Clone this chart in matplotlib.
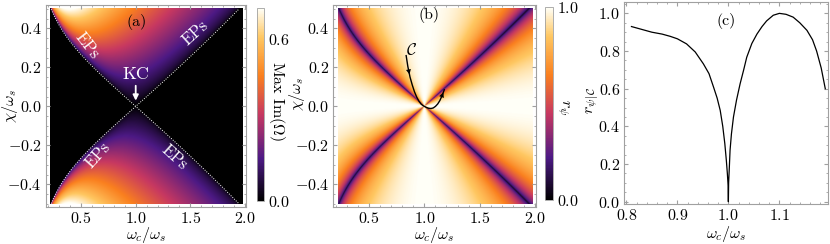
import numpy as np
import matplotlib
matplotlib.use("Agg")
import matplotlib.pyplot as plt
from matplotlib.colors import LinearSegmentedColormap
from matplotlib.ticker import FuncFormatter, MultipleLocator, AutoMinorLocator

plt.rcParams['font.family'] = 'serif'
plt.rcParams['font.serif'] = ['cmr10', 'DejaVu Serif']
plt.rcParams['mathtext.fontset'] = 'cm'
plt.rcParams['axes.formatter.use_mathtext'] = True

# model parameters (two modes, imaginary coupling chi)
omega_s = 1.0
wc_range = (0.22, 1.98)
chi_range = (-0.5, 0.5)

# curve C drawn in panel (b)
C_wc = [0.835, 0.85, 0.87, 0.89, 0.91, 0.93, 0.95, 0.97, 0.99, 1.0,
        1.02, 1.04, 1.06, 1.08, 1.1, 1.12, 1.14, 1.16, 1.18]
C_chi = [0.26, 0.205, 0.15, 0.11, 0.075, 0.048, 0.027, 0.012, 0.003, 0.0,
         -0.006, -0.01, -0.011, -0.008, 0.0, 0.012, 0.03, 0.055, 0.085]

# panel (c): r_psi along C
r_wc = [0.81, 0.83, 0.85, 0.87, 0.886, 0.9, 0.918, 0.935, 0.951, 0.962, 0.971,
        0.978, 0.984, 0.989, 0.993, 0.996, 0.998, 0.9995, 1.0,
        1.0005, 1.002, 1.0033, 1.006, 1.01, 1.016, 1.023, 1.03, 1.036, 1.046,
        1.056, 1.066, 1.075, 1.088, 1.1, 1.113, 1.127, 1.14, 1.154, 1.165,
        1.173, 1.182, 1.19]
r_val = [0.93, 0.915, 0.90, 0.89, 0.878, 0.865, 0.838, 0.795, 0.732, 0.68, 0.608,
         0.55, 0.485, 0.40, 0.309, 0.22, 0.15, 0.085, 0.0,
         0.10, 0.19, 0.273, 0.36, 0.45, 0.54, 0.626, 0.70, 0.767, 0.84,
         0.89, 0.93, 0.96, 0.99, 1.0, 0.995, 0.98, 0.95, 0.91, 0.86,
         0.80, 0.71, 0.60]

sunset = LinearSegmentedColormap.from_list("sunset", [
    (0.0, (0.0, 0.0, 0.0)),
    (0.22, (0.30, 0.10, 0.52)),
    (0.45, (0.78, 0.22, 0.38)),
    (0.65, (0.98, 0.50, 0.12)),
    (0.85, (1.0, 0.78, 0.38)),
    (1.0, (1.0, 1.0, 0.97))])

wc = np.linspace(wc_range[0], wc_range[1], 500)
chi = np.linspace(chi_range[0], chi_range[1], 400)
W, X = np.meshgrid(wc, chi)

A = (W**2 + omega_s**2) / 2
D = (W**2 - omega_s**2) / 2
g = 2 * np.abs(X) * np.sqrt(W * omega_s)
disc = D**2 - g**2
Om = np.sqrt(A + np.sqrt(disc + 0j))
max_im = np.abs(Om.imag) / W

with np.errstate(divide='ignore', invalid='ignore'):
    c = np.where(g < np.abs(D), g / np.abs(D), np.abs(D) / g)
c = np.nan_to_num(c, nan=1.0)
r_psi = np.sqrt(np.clip(1 - c**2, 0, 1))

fig = plt.figure(figsize=(8.3, 2.44), dpi=100)
ax1 = fig.add_axes([0.055, 0.152, 0.2415, 0.828])
ax2 = fig.add_axes([0.4016, 0.152, 0.2442, 0.828])
ax3 = fig.add_axes([0.7522, 0.164, 0.2458, 0.826])
cax1 = fig.add_axes([0.3093, 0.176, 0.0088, 0.79])
cax2 = fig.add_axes([0.6566, 0.180, 0.010, 0.79])

fmt = FuncFormatter(lambda v, p: r'$%.1f$' % v if abs(v) > 1e-9 else r'$0.0$')
frame_col = '#a0a0a0'
fs = 11.5


def style(ax):
    for s in ax.spines.values():
        s.set_color(frame_col)
        s.set_linewidth(0.8)
    ax.tick_params(which='both', direction='in', top=True, right=True,
                   color=frame_col, labelsize=fs, pad=3)
    ax.tick_params(which='major', length=3)
    ax.tick_params(which='minor', length=1.5)
    ax.xaxis.set_major_formatter(fmt)
    ax.yaxis.set_major_formatter(fmt)


ext = [wc_range[0], wc_range[1], chi_range[0], chi_range[1]]
im1 = ax1.imshow(max_im, extent=ext, origin='lower', aspect='auto',
                 cmap=sunset, vmin=0, vmax=0.715, interpolation='bilinear')
im2 = ax2.imshow(r_psi, extent=ext, origin='lower', aspect='auto',
                 cmap=sunset, vmin=0, vmax=1, interpolation='bilinear')

# EP lines in (a)
chi_ep = np.abs(wc**2 - omega_s**2) / (4 * np.sqrt(wc * omega_s))
ok = chi_ep <= 0.5
for sgn in (1, -1):
    ax1.plot(wc[ok], sgn * chi_ep[ok], color='white', ls=(0, (1, 1.5)), lw=0.7)

for ax in (ax1, ax2):
    ax.set_xlim(0.176, 2.01)
    ax.set_ylim(-0.515, 0.52)
    ax.xaxis.set_major_locator(MultipleLocator(0.5))
    ax.yaxis.set_major_locator(MultipleLocator(0.2))
    ax.xaxis.set_minor_locator(AutoMinorLocator(5))
    ax.yaxis.set_minor_locator(AutoMinorLocator(4))
    style(ax)
    ax.set_xlabel(r'$\omega_c/\omega_s$', fontsize=fs)
    ax.xaxis.set_label_coords(0.5, -0.092)

ax1.set_ylabel(r'$\chi/\omega_s$', fontsize=fs)
ax1.yaxis.set_label_coords(-0.13, 0.5)
ax2.set_ylabel(r'$\chi/\omega_s$', fontsize=fs)
ax2.yaxis.set_label_coords(-0.13, 0.56)

ax1.text(0.455, 0.917, '(a)', transform=ax1.transAxes, ha='center', va='center', fontsize=fs)
ax2.text(0.47, 0.95, '(b)', transform=ax2.transAxes, ha='center', va='center', fontsize=fs)

ep_kw = dict(color='white', fontsize=12, ha='center', va='center')
ax1.text(0.56, 0.31, 'EPs', rotation=-52, **ep_kw)
ax1.text(1.54, 0.375, 'EPs', rotation=42, **ep_kw)
ax1.text(0.65, -0.25, 'EPs', rotation=48, **ep_kw)
ax1.text(1.35, -0.26, 'EPs', rotation=-42, **ep_kw)
ax1.text(1.0, 0.165, 'KC', color='white', fontsize=13, ha='center', va='center')
ax1.annotate('', xy=(1.0, 0.015), xytext=(1.0, 0.12),
             arrowprops=dict(arrowstyle='-|>', color='white', lw=1.3, mutation_scale=8))

# curve C
ax2.plot(C_wc, C_chi, color='black', lw=1.0)
for i in (1, 17):
    ax2.annotate('', xy=(C_wc[i + 1], C_chi[i + 1]), xytext=(C_wc[i], C_chi[i]),
                 arrowprops=dict(arrowstyle='-|>', color='black', lw=0, mutation_scale=9))
ax2.text(0.885, 0.29, r'$\mathcal{C}$', fontsize=12, ha='center', va='center')

# colorbars
cb1 = fig.colorbar(im1, cax=cax1, ticks=[0.0, 0.6])
cb2 = fig.colorbar(im2, cax=cax2, ticks=[0.0, 1.0])
for cb, cx in ((cb1, cax1), (cb2, cax2)):
    cb.outline.set_edgecolor(frame_col)
    cb.outline.set_linewidth(0.6)
    cx.tick_params(length=0, labelsize=fs, pad=3)
    cx.yaxis.set_major_formatter(fmt)
cax1.text(2.8, 0.52, r'Max Im$(\Omega)$', rotation=270, transform=cax1.transAxes,
          ha='center', va='center', fontsize=fs)
cax2.text(2.1, 0.48, r'$r_\psi$', rotation=270, transform=cax2.transAxes,
          ha='center', va='center', fontsize=fs)

# panel (c)
ax3.plot(r_wc, r_val, color='black', lw=0.9)
ax3.set_xlim(0.796, 1.196)
ax3.set_ylim(-0.012, 1.058)
ax3.xaxis.set_major_locator(MultipleLocator(0.1))
ax3.yaxis.set_major_locator(MultipleLocator(0.2))
ax3.xaxis.set_minor_locator(AutoMinorLocator(5))
ax3.yaxis.set_minor_locator(AutoMinorLocator(4))
style(ax3)
ax3.set_xlabel(r'$\omega_c/\omega_s$', fontsize=fs)
ax3.xaxis.set_label_coords(0.5, -0.1)
ax3.set_ylabel(r'$\left. r_\psi \right|_{\mathcal{C}}$', fontsize=fs)
ax3.yaxis.set_label_coords(-0.12, 0.515)
ax3.text(0.5, 0.91, '(c)', transform=ax3.transAxes, ha='center', va='center', fontsize=fs)

fig.savefig('out.png', dpi=100)
